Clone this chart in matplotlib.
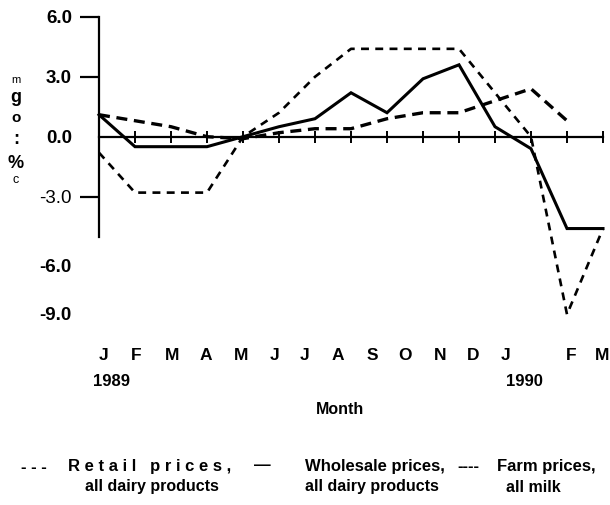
import matplotlib
matplotlib.use('Agg')
import matplotlib.pyplot as plt

plt.rcParams['font.family'] = ['Liberation Sans', 'DejaVu Sans']

# monthly % change, Jan 1989 .. Mar 1990
months = list(range(15))
month_labels = ['J', 'F', 'M', 'A', 'M', 'J', 'J', 'A', 'S', 'O', 'N', 'D', 'J', 'F', 'M']
retail = [-0.8, -2.8, -2.8, -2.8, 0.0, 1.2, 3.0, 4.4, 4.4, 4.4, 4.4, 2.2, 0.0, -8.9, -4.6]
wholesale = [1.1, -0.5, -0.5, -0.5, 0.0, 0.5, 0.9, 2.2, 1.2, 2.9, 3.6, 0.5, -0.6, -4.6, -4.6]
farm = [1.1, 0.8, 0.5, 0.0, -0.1, 0.2, 0.4, 0.4, 0.9, 1.2, 1.2, 1.8, 2.4, 0.8]
ytick_vals = [6, 3, 0, -3]
ytick_text = ['6.0', '3.0', '0.0', '-3.0']

W, H = 610, 505

def fx(x):
    return x / W

def fy(y):
    return 1 - y / H

fig = plt.figure(figsize=(W / 100, H / 100), dpi=100)
# axes placed so month 0 sits at x=99px, month 14 at 603px
ax = fig.add_axes([fx(99), fy(326.4), (603 - 99) / W, (326.4 - 6.9) / H])
ax.set_xlim(0, 14)
ax.set_ylim(-9.5, 6.5)

ax.plot(months, wholesale, color='black', lw=2.2, solid_joinstyle='miter', clip_on=False)
ax.plot(months[:len(farm)], farm, color='black', lw=2.4, dashes=(3.3, 2.0), clip_on=False)
ax.plot(months, retail, color='black', lw=1.9, dashes=(3.0, 2.4), clip_on=False)

for s in ['top', 'right']:
    ax.spines[s].set_visible(False)
ax.spines['left'].set_bounds(-5, 6)
ax.spines['left'].set_linewidth(1.6)
ax.spines['bottom'].set_position(('data', 0))
ax.spines['bottom'].set_bounds(0, 14)
ax.spines['bottom'].set_linewidth(1.6)

ax.set_xticks(months)
ax.tick_params(axis='x', direction='inout', length=9, width=1.4, labelbottom=False)
ax.set_yticks(ytick_vals)
ax.set_yticklabels(ytick_text)
ax.tick_params(axis='y', direction='out', length=13.5, width=1.6, pad=6, labelsize=13.5)
for i, lab in enumerate(ax.get_yticklabels()):
    lab.set_fontweight('normal' if ytick_vals[i] < 0 else 'bold')
ax.yaxis.get_major_ticks()[2].tick1line.set_visible(False)

# lower value labels sit off the axis line
fig.text(fx(72), fy(268), '-6.0', ha='right', va='center', fontsize=13.5, fontweight='bold')
fig.text(fx(72), fy(316), '-9.0', ha='right', va='center', fontsize=13.5, fontweight='bold')

# stacked y label as printed
ylab = [('m', 80, 8, 'normal'), ('g', 97, 13, 'bold'), ('o', 118, 11, 'bold'),
        (':', 139, 13, 'bold'), ('%', 163, 13, 'bold'), ('c', 180, 9, 'normal')]
for ch, y, sz, wt in ylab:
    fig.text(fx(16), fy(y), ch, ha='center', va='center', fontsize=sz, fontweight=wt)

# month labels
label_x = [104, 136, 172, 206, 241, 275, 305, 338, 372, 405, 440, 473, 506, 571, 602]
for x, m in zip(label_x, month_labels):
    fig.text(fx(x), fy(356), m, ha='center', va='center', fontsize=12.5, fontweight='bold')
fig.text(fx(112), fy(382), '1989', ha='center', va='center', fontsize=12, fontweight='bold')
fig.text(fx(524), fy(382), '1990', ha='center', va='center', fontsize=12, fontweight='bold')
fig.text(fx(340), fy(409), 'Month', ha='center', va='center', fontsize=11.5, fontweight='bold')

# legend, drawn as printed text
fig.text(fx(34), fy(467), '- - -', ha='center', va='center', fontsize=12, fontweight='bold')
fig.text(fx(150), fy(467), 'R e t a i l   p r i c e s ,', ha='center', va='center',
         fontsize=12, fontweight='bold')
fig.text(fx(262), fy(466), '\u2014', ha='center', va='center', fontsize=12, fontweight='bold')
fig.text(fx(375), fy(467), 'Wholesale prices,', ha='center', va='center', fontsize=12,
         fontweight='bold')
fig.text(fx(468), fy(467), '----', ha='center', va='center', fontsize=12, fontweight='bold')
fig.text(fx(546), fy(467), 'Farm prices,', ha='center', va='center', fontsize=12,
         fontweight='bold')
fig.text(fx(152), fy(487), 'all dairy products', ha='center', va='center', fontsize=11.5,
         fontweight='bold')
fig.text(fx(372), fy(487), 'all dairy products', ha='center', va='center', fontsize=11.5,
         fontweight='bold')
fig.text(fx(533), fy(487), 'all milk', ha='center', va='center', fontsize=11.5,
         fontweight='bold')

fig.savefig('out.png', dpi=100)
